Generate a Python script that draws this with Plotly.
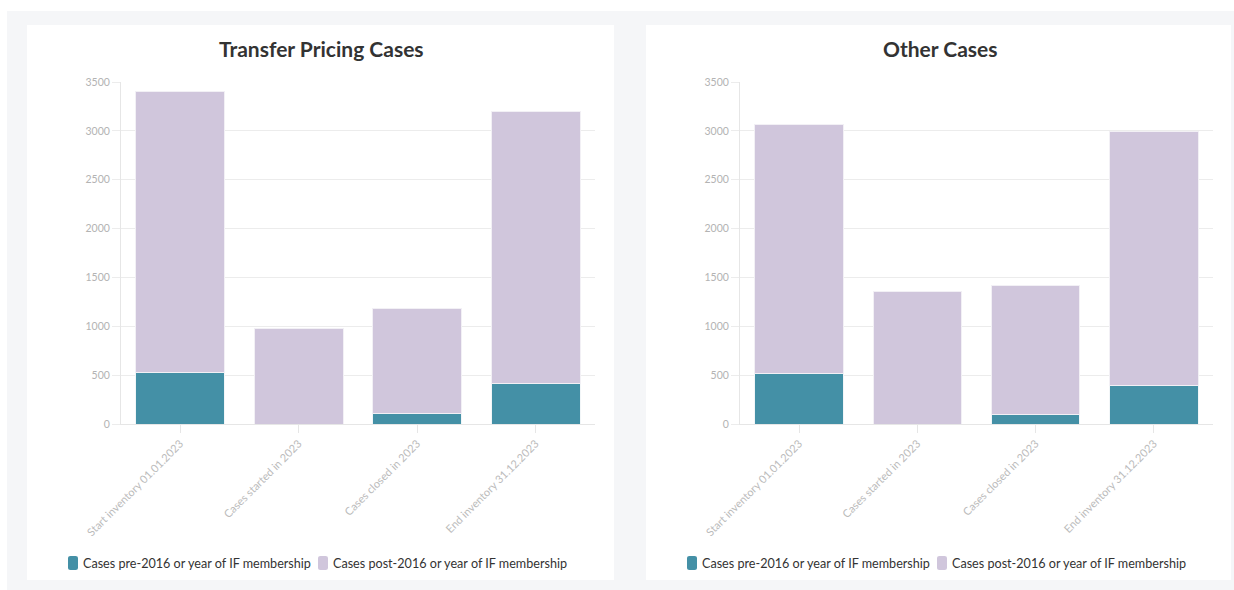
import plotly.graph_objects as go

W, H = 1234, 590

categories = ["Start inventory 01.01.2023", "Cases started in 2023",
              "Cases closed in 2023", "End inventory 31.12.2023"]

tp_pre = [525, 0, 105, 417]
tp_post = [2875, 980, 1075, 2778]

other_pre = [515, 0, 102, 393]
other_post = [2550, 1355, 1313, 2597]

series_names = ["Cases pre-2016 or year of IF membership",
                "Cases post-2016 or year of IF membership"]
titles = ["Transfer Pricing Cases", "Other Cases"]
y_ticks = [0, 500, 1000, 1500, 2000, 2500, 3000, 3500]

TEAL = "#4490a6"
LAV = "#d0c6dc"
FONT = "Lato"

def px(x):
    return x / W

def py(y):
    return 1 - y / H

fig = go.Figure()

for i, (pre, post) in enumerate([(tp_pre, tp_post), (other_pre, other_post)]):
    xa = "x" if i == 0 else "x2"
    ya = "y" if i == 0 else "y2"
    fig.add_trace(go.Bar(x=categories, y=pre, name=series_names[0],
                         marker=dict(color=TEAL, line=dict(color="#f2f6f8", width=1)),
                         xaxis=xa, yaxis=ya, showlegend=False))
    fig.add_trace(go.Bar(x=categories, y=post, name=series_names[1],
                         marker=dict(color=LAV, line=dict(color="#f2f0f5", width=1)),
                         xaxis=xa, yaxis=ya, showlegend=False))

axis_common_x = dict(type="category", showgrid=False, showline=True, linecolor="#e6e6e6",
                     ticks="outside", ticklen=8, tickcolor="#e6e6e6", tickangle=-45,
                     tickfont=dict(family=FONT, size=11, color="#bbbbbb"), fixedrange=True,
                     automargin=False)
axis_common_y = dict(range=[0, 3500], tickvals=y_ticks, showgrid=True, gridcolor="#ececec",
                     showline=True, linecolor="#e6e6e6", ticks="outside", ticklen=8,
                     tickcolor="#ececec", zeroline=False, automargin=False,
                     tickfont=dict(family=FONT, size=10.5, color="#b3b3b3"))


def rounded_rect(x0, y0, x1, y1, r):
    # pixel coords -> paper path
    X = lambda v: f"{px(v):.6f}"
    Y = lambda v: f"{py(v):.6f}"
    return (f"M {X(x0 + r)} {Y(y0)} L {X(x1 - r)} {Y(y0)} Q {X(x1)} {Y(y0)} {X(x1)} {Y(y0 + r)} "
            f"L {X(x1)} {Y(y1 - r)} Q {X(x1)} {Y(y1)} {X(x1 - r)} {Y(y1)} "
            f"L {X(x0 + r)} {Y(y1)} Q {X(x0)} {Y(y1)} {X(x0)} {Y(y1 - r)} "
            f"L {X(x0)} {Y(y0 + r)} Q {X(x0)} {Y(y0)} {X(x0 + r)} {Y(y0)} Z")


shapes = [
    dict(type="rect", xref="paper", yref="paper", x0=px(7), x1=1, y0=0, y1=py(11),
         fillcolor="#f5f6f8", line=dict(width=0), layer="below"),
    dict(type="rect", xref="paper", yref="paper", x0=px(27), x1=px(614), y0=py(580), y1=py(25),
         fillcolor="#ffffff", line=dict(width=0), layer="below"),
    dict(type="rect", xref="paper", yref="paper", x0=px(646), x1=px(1231), y0=py(580), y1=py(25),
         fillcolor="#ffffff", line=dict(width=0), layer="below"),
]
annotations = [
    dict(text="<b>" + titles[0] + "</b>", x=px(321), y=py(48), xref="paper", yref="paper",
         xanchor="center", yanchor="middle", showarrow=False,
         font=dict(family=FONT, size=21, color="#333333")),
    dict(text="<b>" + titles[1] + "</b>", x=px(940), y=py(48), xref="paper", yref="paper",
         xanchor="center", yanchor="middle", showarrow=False,
         font=dict(family=FONT, size=21, color="#333333")),
]

# custom legends (one per panel)
LEG_Y = 563
for base in (68, 687):
    for j, (col, name) in enumerate(zip([TEAL, LAV], series_names)):
        mx = base + j * 250
        shapes.append(dict(type="path", xref="paper", yref="paper",
                           path=rounded_rect(mx, LEG_Y - 7, mx + 10, LEG_Y + 7, 2.5),
                           fillcolor=col, line=dict(width=0)))
        annotations.append(dict(text=name, x=px(mx + 13), y=py(LEG_Y), xref="paper", yref="paper",
                                xanchor="left", yanchor="middle", showarrow=False,
                                font=dict(family=FONT, size=12.6, color="#333333")))

ydom = [py(424), py(82)]
fig.update_layout(
    width=W, height=H,
    margin=dict(l=0, r=0, t=0, b=0, pad=0, autoexpand=False),
    paper_bgcolor="#ffffff",
    plot_bgcolor="rgba(0,0,0,0)",
    barmode="stack",
    bargap=0.25,
    showlegend=False,
    xaxis=dict(domain=[px(121), px(595)], anchor="y", **axis_common_x),
    yaxis=dict(domain=ydom, anchor="x", **axis_common_y),
    xaxis2=dict(domain=[px(740), px(1213)], anchor="y2", **axis_common_x),
    yaxis2=dict(domain=ydom, anchor="x2", **axis_common_y),
    shapes=shapes,
    annotations=annotations,
)

fig.write_html("out.html")
